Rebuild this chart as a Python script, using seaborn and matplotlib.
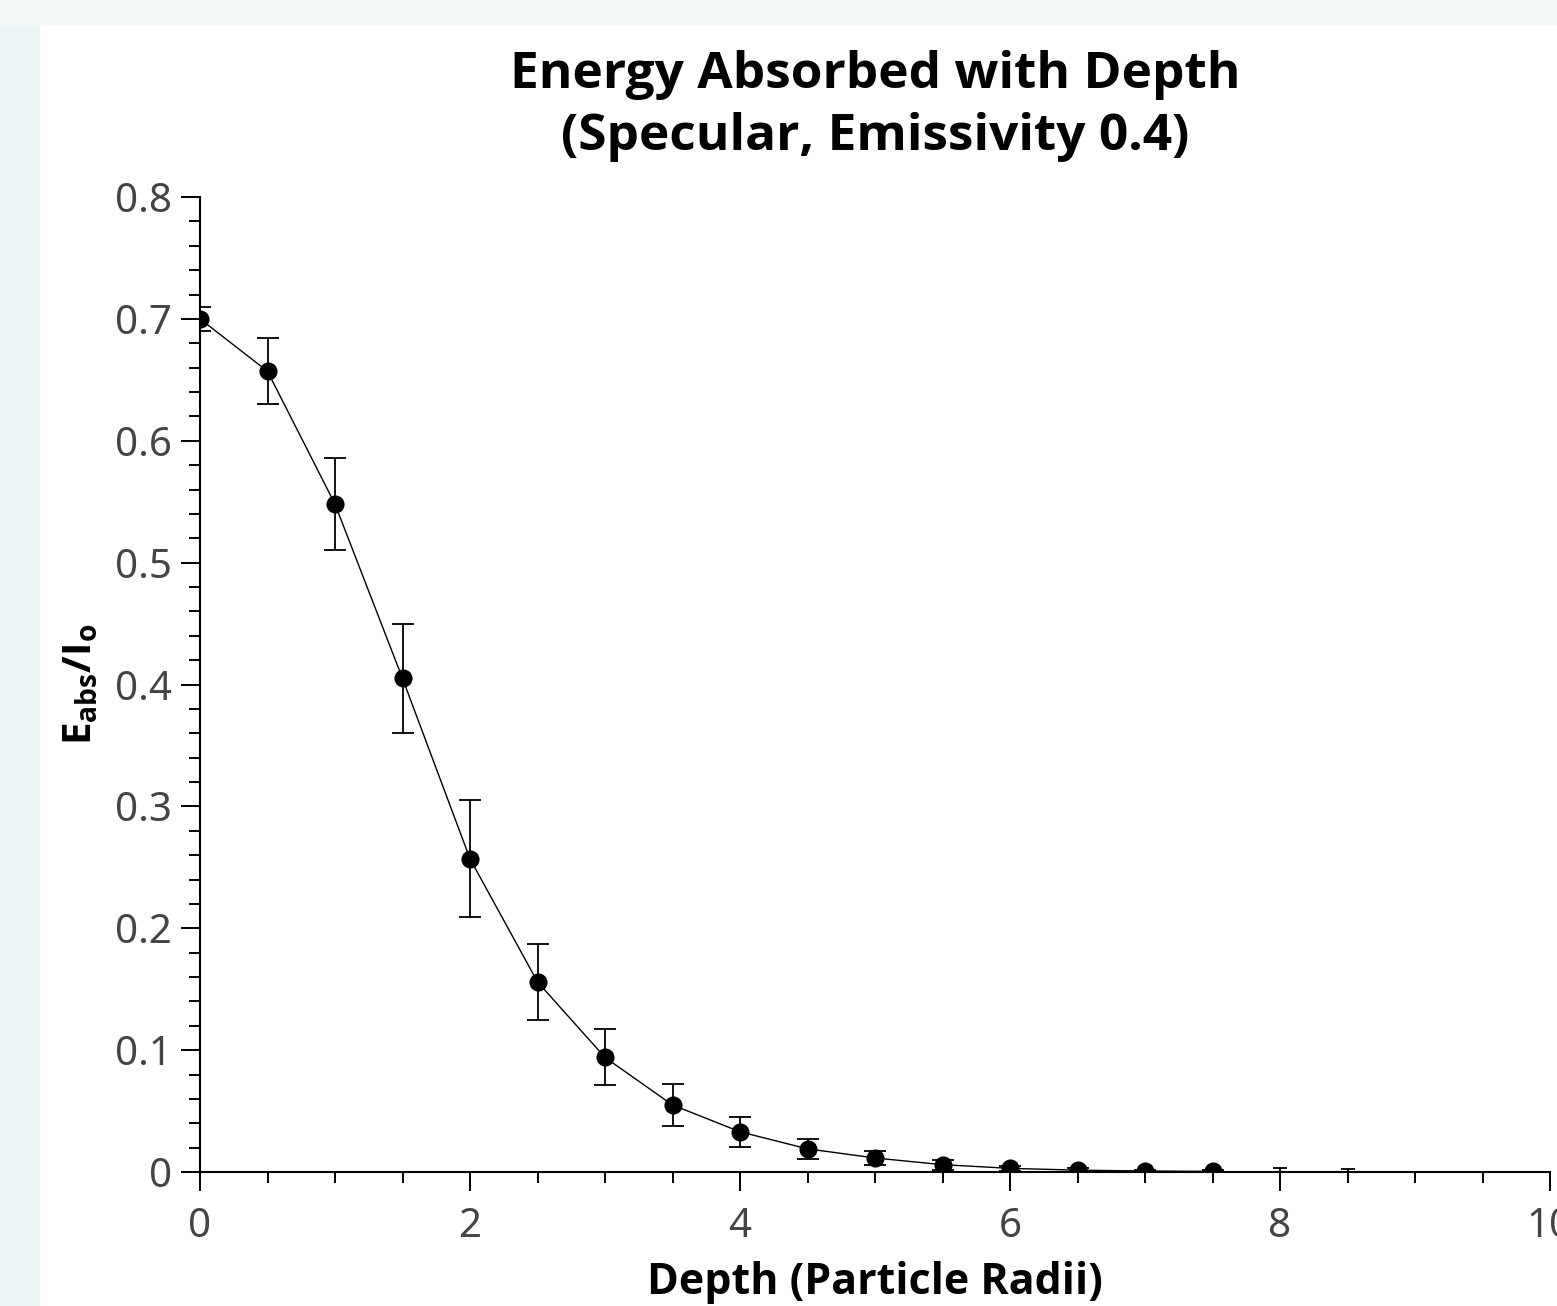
import numpy as np
import pandas as pd
import matplotlib
matplotlib.use("Agg")
import matplotlib.pyplot as plt
from matplotlib.patches import Rectangle
from matplotlib.ticker import MultipleLocator
from matplotlib import font_manager as fm
import seaborn as sns

# ---- data ----
depth = [0.0, 0.5, 1.0, 1.5, 2.0, 2.5, 3.0, 3.5, 4.0, 4.5, 5.0, 5.5, 6.0, 6.5, 7.0, 7.5]
energy = [0.700, 0.657, 0.548, 0.405, 0.257, 0.156, 0.094, 0.055, 0.033, 0.019,
          0.0115, 0.006, 0.003, 0.0015, 0.0008, 0.0005]
error = [0.010, 0.027, 0.038, 0.045, 0.048, 0.031, 0.023, 0.017, 0.0125, 0.008,
         0.006, 0.004, 0.002, 0.0015, 0.001, 0.001]
tail_depth = [8.0, 8.5]
tail_energy = [0.0002, 0.0001]
tail_error = [0.003, 0.002]

title = "Energy Absorbed with Depth\n(Specular, Emissivity 0.4)"
xlabel = "Depth (Particle Radii)"

df = pd.DataFrame({"depth": depth, "energy": energy, "error": error})

sns.set_theme(style="ticks")
plt.rcParams['font.family'] = ['Noto Sans', 'DejaVu Sans']

# pick a family that really has a bold face
bold_family = 'DejaVu Sans'
for fam in ['Open Sans', 'Noto Sans', 'Lato', 'Roboto']:
    try:
        p = fm.findfont(fm.FontProperties(family=fam, weight='bold'), fallback_to_default=False)
        if 'bold' in p.lower():
            bold_family = fam
            break
    except Exception:
        pass

plt.rcParams['mathtext.fontset'] = 'custom'
plt.rcParams['mathtext.bf'] = f'{bold_family}:bold'
plt.rcParams['mathtext.rm'] = bold_family

W, H = 1557, 1306
fig = plt.figure(figsize=(W / 100, H / 100), dpi=100)
fig.patch.set_facecolor('#f3f8f9')
fig.patches.append(Rectangle((40 / W, 0), 1 - 40 / W, 1 - 25 / H,
                             transform=fig.transFigure, facecolor='white',
                             edgecolor='none', zorder=-5))
fig.patches.append(Rectangle((0, 0), 40 / W, 1 - 25 / H,
                             transform=fig.transFigure, facecolor='#edf4f6',
                             edgecolor='none', zorder=-5))

ax = fig.add_axes([200 / W, 1 - 1172 / H, 1350 / W, 975 / H])
ax.set_facecolor('none')
ax.set_zorder(2)

ax.errorbar(df["depth"], df["energy"], yerr=df["error"], fmt='none',
            ecolor='black', elinewidth=1.3, capsize=8, capthick=1.3, zorder=3)
ax.errorbar(tail_depth, tail_energy, yerr=tail_error, fmt='none',
            ecolor='black', elinewidth=1.3, capsize=5, capthick=1.3, zorder=3)
sns.lineplot(data=df, x="depth", y="energy", ax=ax, color='black',
             linewidth=1.0, zorder=4)
sns.scatterplot(data=df, x="depth", y="energy", ax=ax, color='black',
                s=170, edgecolor='black', linewidth=0, zorder=5)

ax.set_xlim(0, 10)
ax.set_ylim(0, 0.8)
ax.xaxis.set_major_locator(MultipleLocator(2))
ax.xaxis.set_minor_locator(MultipleLocator(0.5))
ax.yaxis.set_major_locator(MultipleLocator(0.1))
ax.yaxis.set_minor_locator(MultipleLocator(0.02))
ax.yaxis.set_major_formatter(plt.FuncFormatter(lambda v, p: "0" if abs(v) < 1e-9 else f"{v:.1f}"))

for s in ['top', 'right']:
    ax.spines[s].set_visible(False)
for s in ['left', 'bottom']:
    ax.spines[s].set_linewidth(1.5)
    ax.spines[s].set_color('black')

ax.tick_params(which='major', direction='out', length=14, width=1.4,
               color='black', labelsize=29, labelcolor='#444444', pad=6)
ax.tick_params(axis='x', which='major', pad=11)
ax.tick_params(which='minor', direction='out', length=8, width=1.4, color='black')

ax.set_xlabel(xlabel, fontsize=31, fontweight='bold', family=bold_family,
              color='black', labelpad=10)
ax.set_ylabel(r'$\mathbf{E_{abs}/I_o}$', fontsize=29, color='black', labelpad=10)
ax.set_title(title, fontsize=37, fontweight='bold', family=bold_family,
             color='black', pad=34, linespacing=1.3)

fig.savefig("out.png", dpi=100, facecolor=fig.get_facecolor())
